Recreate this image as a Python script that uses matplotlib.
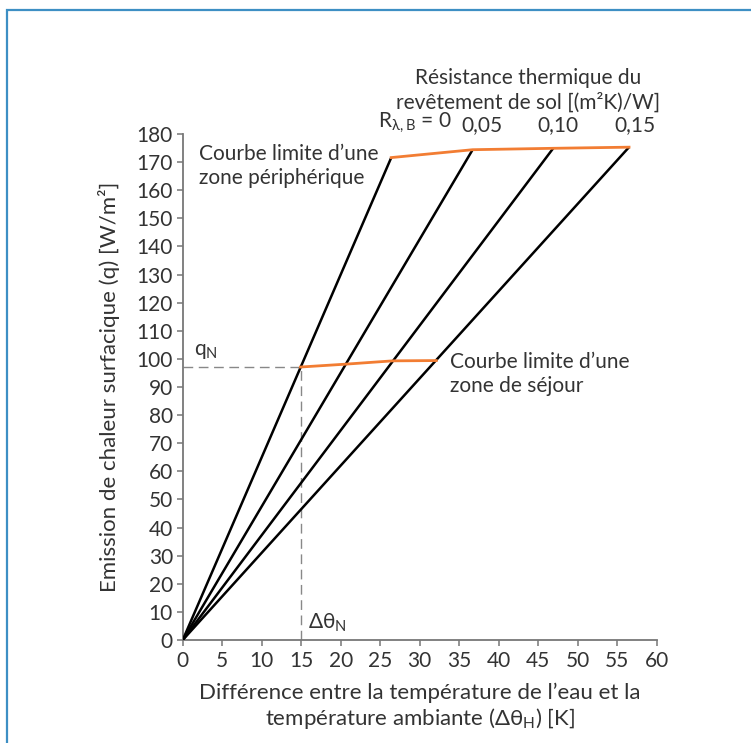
import matplotlib
matplotlib.use('Agg')
import matplotlib.pyplot as plt
from matplotlib.patches import Rectangle

plt.rcParams['font.family'] = ['Lato', 'DejaVu Sans']
plt.rcParams['mathtext.default'] = 'regular'

# floor covering resistance lines (end points at the peripheral-zone limit)
r_labels = ['0', '0,05', '0,10', '0,15']
top_dt = [26.4, 36.7, 46.9, 56.5]
top_q = [171.6, 174.4, 174.9, 175.3]

# limit curve of the living zone (crossing of each line)
low_dt = [14.9, 20.5, 26.6, 32.1]
low_q = [97.1, 98.1, 99.3, 99.4]

qN = 97.1
dtN = 15

txt = '#333333'
orange = '#f27d33'

fig = plt.figure(figsize=(7.51, 7.43), dpi=100)
ax = fig.add_axes([0.2433, 0.1386, 0.6311, 0.6811])

# blue frame, cut at right and bottom
fig.patches.append(Rectangle((0.0095, -0.05), 1.2, 1.0365, transform=fig.transFigure,
                             fill=False, edgecolor='#3d8fc4', linewidth=1.6))

for x, y in zip(top_dt, top_q):
    ax.plot([0, x], [0, y], color='black', linewidth=1.8, solid_capstyle='butt', zorder=3)

ax.plot(top_dt, top_q, color=orange, linewidth=2.0, zorder=4)
ax.plot(low_dt, low_q, color=orange, linewidth=2.0, zorder=4)

ax.plot([0, dtN], [qN, qN], color='#888888', linewidth=1.0, dashes=(7, 4), zorder=2)
ax.plot([dtN, dtN], [0, qN], color='#888888', linewidth=1.0, dashes=(7, 4), zorder=2)

ax.set_xlim(0, 60)
ax.set_ylim(0, 180)
ax.set_xticks(range(0, 61, 5))
ax.set_yticks(range(0, 181, 10))
ax.spines['top'].set_visible(False)
ax.spines['right'].set_visible(False)
for s in ['left', 'bottom']:
    ax.spines[s].set_color('#777777')
    ax.spines[s].set_linewidth(1.3)
ax.tick_params(direction='out', length=4, width=1.1, color='#777777',
               labelsize=15, labelcolor=txt)
ax.tick_params(axis='x', pad=4)
ax.tick_params(axis='y', pad=3)

ax.set_xlabel("Différence entre la température de l\u2019eau et la\ntempérature ambiante ($\\Delta\\theta_H$) [K]",
              fontsize=16, color=txt, linespacing=1.2, labelpad=8)
ax.set_ylabel('Emission de chaleur surfacique (q) [W/m²]', fontsize=16, color=txt, labelpad=12)

ax.text(1.4, 101.5, '$q_N$', fontsize=15, color=txt)
ax.text(15.8, 4, '$\\Delta\\theta_N$', fontsize=15, color=txt)
ax.text(2.1, 168.5, "Courbe limite d\u2019une\nzone périphérique", fontsize=15, color=txt,
        va='center', linespacing=1.25)
ax.text(33.8, 94.5, "Courbe limite d\u2019une\nzone de séjour", fontsize=15, color=txt,
        va='center', linespacing=1.25)
ax.text(43.7, 187.5, 'Résistance thermique du\nrevêtement de sol [(m²K)/W]', fontsize=15,
        color=txt, ha='center', va='bottom', linespacing=1.25, clip_on=False)

label_x = [29.4, 37.9, 47.5, 57.2]
ax.text(label_x[0], 179.5, '$R_{\\lambda,B}$ = ' + r_labels[0], fontsize=15, color=txt,
        ha='center', va='bottom', clip_on=False)
for lx, lab in zip(label_x[1:], r_labels[1:]):
    ax.text(lx, 179.5, lab, fontsize=15, color=txt, ha='center', va='bottom', clip_on=False)

fig.savefig('out.png', dpi=100)
